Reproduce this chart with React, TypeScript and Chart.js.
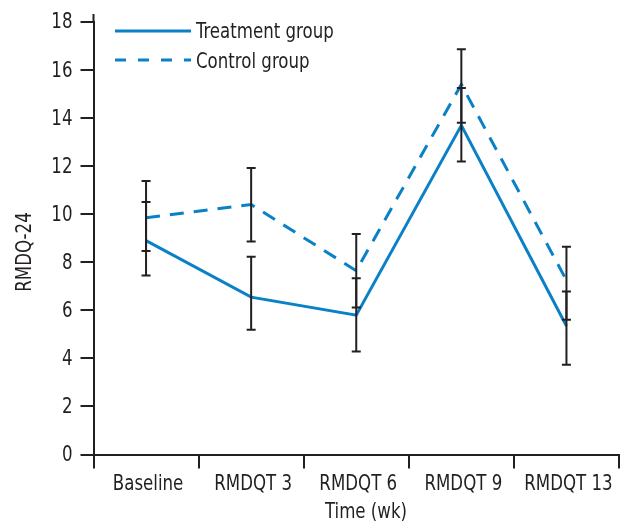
import React, { useEffect, useRef } from "react";
import { Chart, registerables } from "chart.js";

Chart.register(...registerables);

const categories = ["Baseline", "RMDQT 3", "RMDQT 6", "RMDQT 9", "RMDQT 13"];
const treatment = [8.9, 6.55, 5.8, 13.7, 5.35];
const control = [9.85, 10.4, 7.65, 15.4, 7.25];
const treatmentUpper = [10.51, 8.23, 7.34, 15.25, 6.78];
const treatmentLower = [7.45, 5.19, 4.29, 12.19, 3.74];
const controlUpper = [11.38, 11.92, 9.18, 16.87, 8.65];
const controlLower = [8.47, 8.86, 6.12, 13.81, 5.61];
const yTicks = [0, 2, 4, 6, 8, 10, 12, 14, 16, 18];
const seriesNames = ["Treatment group", "Control group"];
const xTitle = "Time (wk)";
const yTitle = "RMDQ-24";

const FONT = "'DejaVu Sans Condensed', 'DejaVu Sans', sans-serif";
const INK = "#231f20";
const BLUE = "#0a80c6";
const SX = 0.88;

function narrowText(ctx: any, text: string, x: number, y: number, align: string) {
  ctx.save();
  ctx.translate(x, y);
  ctx.scale(SX, 1);
  ctx.textAlign = align;
  ctx.fillText(text, 0, 0);
  ctx.restore();
}

const overlay = {
  id: "overlay",
  afterDatasetsDraw(chart: any) {
    const ctx = chart.ctx;
    const x = chart.scales.x;
    const y = chart.scales.y;
    ctx.save();
    ctx.strokeStyle = INK;
    ctx.lineWidth = 2;
    const cap = 4.5;
    const bars = [
      [controlLower, controlUpper],
      [treatmentLower, treatmentUpper],
    ];
    bars.forEach(([lo, hi]) => {
      categories.forEach((_, i) => {
        const px = x.getPixelForValue(i);
        const y1 = y.getPixelForValue(lo[i]);
        const y2 = y.getPixelForValue(hi[i]);
        ctx.beginPath();
        ctx.moveTo(px, y1);
        ctx.lineTo(px, y2);
        ctx.moveTo(px - cap, y1);
        ctx.lineTo(px + cap, y1);
        ctx.moveTo(px - cap, y2);
        ctx.lineTo(px + cap, y2);
        ctx.stroke();
      });
    });
    ctx.restore();
  },
  afterDraw(chart: any) {
    const ctx = chart.ctx;
    const area = chart.chartArea;
    const xs = chart.scales.x;
    const ys = chart.scales.y;
    ctx.save();
    // y axis extension above top
    ctx.strokeStyle = INK;
    ctx.lineWidth = 2;
    ctx.beginPath();
    ctx.moveTo(area.left, area.top - 8);
    ctx.lineTo(area.left, area.top);
    ctx.stroke();

    // legend
    const lx1 = 115;
    const lx2 = 191;
    ctx.strokeStyle = BLUE;
    ctx.lineWidth = 3;
    ctx.beginPath();
    ctx.moveTo(lx1, 31);
    ctx.lineTo(lx2, 31);
    ctx.stroke();
    ctx.setLineDash([11, 12]);
    ctx.beginPath();
    ctx.moveTo(lx1, 60);
    ctx.lineTo(lx2, 60);
    ctx.stroke();
    ctx.setLineDash([]);

    ctx.fillStyle = INK;
    ctx.font = `21px ${FONT}`;
    ctx.textBaseline = "alphabetic";
    narrowText(ctx, seriesNames[0], 196, 38, "left");
    narrowText(ctx, seriesNames[1], 196, 68, "left");

    // y tick labels
    ctx.textBaseline = "middle";
    yTicks.forEach((v) => {
      narrowText(ctx, String(v), area.left - 21, ys.getPixelForValue(v) + 1, "right");
    });

    // x tick labels
    ctx.textBaseline = "alphabetic";
    categories.forEach((c, i) => {
      narrowText(ctx, c, xs.getPixelForValue(i) + 2, 490, "center");
    });

    // axis titles
    narrowText(ctx, xTitle, 366, 518, "center");
    ctx.translate(31, 252);
    ctx.rotate(-Math.PI / 2);
    narrowText(ctx, yTitle, 0, 0, "center");
    ctx.restore();
  },
};

export default function App() {
  const ref = useRef<HTMLCanvasElement | null>(null);
  useEffect(() => {
    if (!ref.current) return;
    const chart = new Chart(ref.current, {
      type: "line",
      data: {
        labels: categories,
        datasets: [
          {
            label: seriesNames[0],
            data: treatment,
            borderColor: BLUE,
            borderWidth: 3,
            pointRadius: 0,
            tension: 0,
            fill: false,
          },
          {
            label: seriesNames[1],
            data: control,
            borderColor: BLUE,
            borderWidth: 3,
            borderDash: [14, 10],
            pointRadius: 0,
            tension: 0,
            fill: false,
          },
        ],
      },
      options: {
        animation: false,
        responsive: true,
        maintainAspectRatio: false,
        layout: { padding: { top: 22, right: 7, bottom: 0, left: 0 } },
        plugins: {
          legend: { display: false },
          tooltip: { enabled: false },
        },
        scales: {
          x: {
            type: "category",
            offset: true,
            grid: {
              offset: true,
              display: true,
              drawOnChartArea: false,
              drawTicks: true,
              tickLength: 14,
              color: INK,
              lineWidth: 2,
            },
            border: { display: true, color: INK, width: 2 },
            ticks: { display: false },
            afterFit: (s: any) => {
              s.height = 69.5;
            },
          },
          y: {
            min: 0,
            max: 18,
            afterBuildTicks: (s: any) => {
              s.ticks = yTicks.map((v) => ({ value: v }));
            },
            grid: {
              display: true,
              drawOnChartArea: false,
              drawTicks: true,
              tickLength: 13,
              color: INK,
              lineWidth: 2,
            },
            border: { display: true, color: INK, width: 2 },
            ticks: { display: false },
            afterFit: (s: any) => {
              s.width = 93.5;
            },
          },
        },
      },
      plugins: [overlay],
    });
    return () => chart.destroy();
  }, []);
  return (
    <div style={{ position: "fixed", left: 0, top: 0, width: 626, height: 524, background: "#fff" }}>
      <canvas ref={ref} />
    </div>
  );
}
